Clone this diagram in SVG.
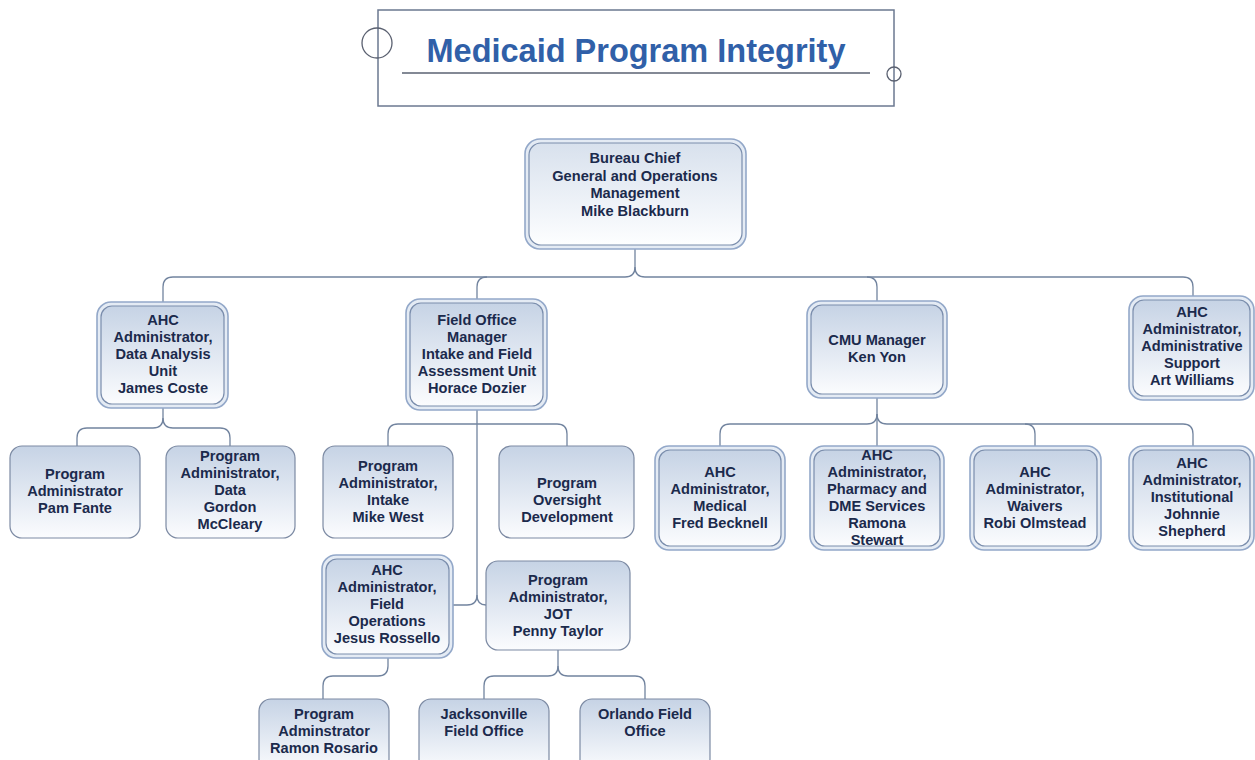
<svg xmlns="http://www.w3.org/2000/svg" width="1255" height="760" viewBox="0 0 1255 760">
  <defs>
    <linearGradient id="boxFill" x1="0" y1="0" x2="0" y2="1">
      <stop offset="0" stop-color="#c6d3e5"/>
      <stop offset="1" stop-color="#fbfcfe"/>
    </linearGradient>
    <linearGradient id="chiefFill" x1="0" y1="0" x2="0" y2="1">
      <stop offset="0" stop-color="#d8e1ed"/>
      <stop offset="1" stop-color="#fdfeff"/>
    </linearGradient>
  </defs>
  <style>
    .frame { fill: #ffffff; stroke: #6b7890; stroke-width: 1.5; }
    .ring { fill: none; stroke: #5a6070; stroke-width: 1.3; }
    .rule { stroke: #5a6272; stroke-width: 1.3; }
    .title { font-family: "Liberation Sans", Arial, sans-serif; font-weight: bold; font-size: 32.5px; fill: #3060a8; text-anchor: middle; }
    .outer { fill: #e4ebf4; stroke: #93a8c9; stroke-width: 1.6; }
    .inner { fill: url(#boxFill); stroke: #7a8dac; stroke-width: 1.2; }
    .single { fill: url(#boxFill); stroke: #7c8aa3; stroke-width: 1.2; }
    .label { font-family: "Liberation Sans", Arial, sans-serif; font-weight: bold; font-size: 14.6px; fill: #1b2a4c; text-anchor: middle; }
    .link { fill: none; stroke: #72849f; stroke-width: 1.3; }
  </style>

  <rect width="1255" height="760" fill="#ffffff"/>

  <!-- heading banner -->
  <g id="title">
    <rect class="frame" x="378" y="10" width="516" height="96"/>
    <circle class="ring" cx="377" cy="43" r="15"/>
    <circle class="ring" cx="894" cy="74" r="7"/>
    <line class="rule" x1="402" y1="73" x2="870" y2="73"/>
    <text class="title" x="636" y="62">Medicaid Program Integrity</text>
  </g>

  <!-- connectors -->
  <g id="connectors">
    <path class="link" d="M635,249 V267 Q635,277 625,277 H173 Q163,277 163,287 V302"/>
    <path class="link" d="M635,267 Q635,277 645,277 H1183 Q1193,277 1193,287 V296"/>
    <path class="link" d="M487,277 Q477,277 477,287 V299"/>
    <path class="link" d="M867,277 Q877,277 877,287 V301"/>

    <path class="link" d="M163,408 V418 Q163,428 153,428 H87 Q77,428 77,438 V446"/>
    <path class="link" d="M163,418 Q163,428 173,428 H220 Q230,428 230,438 V446"/>

    <path class="link" d="M388,446 V434 Q388,424 398,424 H557 Q567,424 567,434 V446"/>
    <path class="link" d="M477,410 V595 Q477,605 467,605 H453"/>
    <path class="link" d="M477,595 Q477,605 486,605"/>

    <path class="link" d="M388,657 V666 Q388,676 378,676 H333 Q323,676 323,686 V699"/>
    <path class="link" d="M558,650 V666 Q558,676 548,676 H494 Q484,676 484,686 V699"/>
    <path class="link" d="M558,666 Q558,676 568,676 H635 Q645,676 645,686 V699"/>

    <path class="link" d="M877,398 V414 Q877,424 867,424 H730 Q720,424 720,434 V446"/>
    <path class="link" d="M877,414 Q877,424 887,424 H1183 Q1193,424 1193,434 V446"/>
    <path class="link" d="M877,414 V446"/>
    <path class="link" d="M1025,424 Q1035,424 1035,434 V446"/>
  </g>

  <!-- level 1 -->
  <g id="bureau-chief">
    <rect class="outer" x="525" y="139" width="221" height="110" rx="15"/>
    <rect class="inner" x="529" y="143" width="213" height="102" rx="12" style="fill:url(#chiefFill)"/>
    <text class="label" x="635" y="163">Bureau Chief<tspan x="635" dy="17.5">General and Operations</tspan><tspan x="635" dy="17.5">Management</tspan><tspan x="635" dy="17.5">Mike Blackburn</tspan></text>
  </g>

  <!-- level 2 -->
  <g id="data-analysis">
    <rect class="outer" x="97" y="302" width="131" height="106" rx="14"/>
    <rect class="inner" x="101" y="306" width="123" height="98" rx="11"/>
    <text class="label" x="163" y="325">AHC<tspan x="163" dy="17">Administrator,</tspan><tspan x="163" dy="17">Data Analysis</tspan><tspan x="163" dy="17">Unit</tspan><tspan x="163" dy="17">James Coste</tspan></text>
  </g>
  <g id="field-office">
    <rect class="outer" x="406" y="299" width="141" height="111" rx="14"/>
    <rect class="inner" x="410" y="303" width="133" height="103" rx="11"/>
    <text class="label" x="477" y="325">Field Office<tspan x="477" dy="17">Manager</tspan><tspan x="477" dy="17">Intake and Field</tspan><tspan x="477" dy="17">Assessment Unit</tspan><tspan x="477" dy="17">Horace Dozier</tspan></text>
  </g>
  <g id="cmu-manager">
    <rect class="outer" x="807" y="301" width="140" height="97" rx="14"/>
    <rect class="inner" x="811" y="305" width="132" height="89" rx="11"/>
    <text class="label" x="877" y="345">CMU Manager<tspan x="877" dy="17">Ken Yon</tspan></text>
  </g>
  <g id="admin-support">
    <rect class="outer" x="1129" y="296" width="125" height="104" rx="14"/>
    <rect class="inner" x="1133" y="300" width="117" height="96" rx="11"/>
    <text class="label" x="1192" y="317">AHC<tspan x="1192" dy="17">Administrator,</tspan><tspan x="1192" dy="17">Administrative</tspan><tspan x="1192" dy="17">Support</tspan><tspan x="1192" dy="17">Art Williams</tspan></text>
  </g>

  <!-- level 3 -->
  <g id="pam-fante">
    <rect class="single" x="10" y="446" width="130" height="92" rx="12"/>
    <text class="label" x="75" y="479">Program<tspan x="75" dy="17">Administrator</tspan><tspan x="75" dy="17">Pam Fante</tspan></text>
  </g>
  <g id="gordon-mccleary">
    <rect class="single" x="166" y="446" width="129" height="92" rx="12"/>
    <text class="label" x="230" y="461">Program<tspan x="230" dy="17">Administrator,</tspan><tspan x="230" dy="17">Data</tspan><tspan x="230" dy="17">Gordon</tspan><tspan x="230" dy="17">McCleary</tspan></text>
  </g>
  <g id="mike-west">
    <rect class="single" x="323" y="446" width="130" height="92" rx="12"/>
    <text class="label" x="388" y="471">Program<tspan x="388" dy="17">Administrator,</tspan><tspan x="388" dy="17">Intake</tspan><tspan x="388" dy="17">Mike West</tspan></text>
  </g>
  <g id="oversight-development">
    <rect class="single" x="499" y="446" width="135" height="92" rx="12"/>
    <text class="label" x="567" y="488">Program<tspan x="567" dy="17">Oversight</tspan><tspan x="567" dy="17">Development</tspan></text>
  </g>
  <g id="fred-becknell">
    <rect class="outer" x="655" y="446" width="130" height="104" rx="14"/>
    <rect class="inner" x="659" y="450" width="122" height="96" rx="11"/>
    <text class="label" x="720" y="477">AHC<tspan x="720" dy="17">Administrator,</tspan><tspan x="720" dy="17">Medical</tspan><tspan x="720" dy="17">Fred Becknell</tspan></text>
  </g>
  <g id="ramona-stewart">
    <rect class="outer" x="810" y="446" width="134" height="104" rx="14"/>
    <rect class="inner" x="814" y="450" width="126" height="96" rx="11"/>
    <text class="label" x="877" y="460">AHC<tspan x="877" dy="17">Administrator,</tspan><tspan x="877" dy="17">Pharmacy and</tspan><tspan x="877" dy="17">DME Services</tspan><tspan x="877" dy="17">Ramona</tspan><tspan x="877" dy="17">Stewart</tspan></text>
  </g>
  <g id="robi-olmstead">
    <rect class="outer" x="970" y="446" width="131" height="104" rx="14"/>
    <rect class="inner" x="974" y="450" width="123" height="96" rx="11"/>
    <text class="label" x="1035" y="477">AHC<tspan x="1035" dy="17">Administrator,</tspan><tspan x="1035" dy="17">Waivers</tspan><tspan x="1035" dy="17">Robi Olmstead</tspan></text>
  </g>
  <g id="johnnie-shepherd">
    <rect class="outer" x="1129" y="446" width="125" height="104" rx="14"/>
    <rect class="inner" x="1133" y="450" width="117" height="96" rx="11"/>
    <text class="label" x="1192" y="468">AHC<tspan x="1192" dy="17">Administrator,</tspan><tspan x="1192" dy="17">Institutional</tspan><tspan x="1192" dy="17">Johnnie</tspan><tspan x="1192" dy="17">Shepherd</tspan></text>
  </g>
  <g id="jesus-rossello">
    <rect class="outer" x="322" y="555" width="131" height="103" rx="14"/>
    <rect class="inner" x="326" y="559" width="123" height="95" rx="11"/>
    <text class="label" x="387" y="575">AHC<tspan x="387" dy="17">Administrator,</tspan><tspan x="387" dy="17">Field</tspan><tspan x="387" dy="17">Operations</tspan><tspan x="387" dy="17">Jesus Rossello</tspan></text>
  </g>
  <g id="penny-taylor">
    <rect class="single" x="486" y="561" width="144" height="89" rx="12"/>
    <text class="label" x="558" y="585">Program<tspan x="558" dy="17">Administrator,</tspan><tspan x="558" dy="17">JOT</tspan><tspan x="558" dy="17">Penny Taylor</tspan></text>
  </g>

  <!-- level 4 -->
  <g id="ramon-rosario">
    <rect class="single" x="259" y="699" width="130" height="72" rx="12"/>
    <text class="label" x="324" y="719">Program<tspan x="324" dy="17">Adminstrator</tspan><tspan x="324" dy="17">Ramon Rosario</tspan></text>
  </g>
  <g id="jacksonville">
    <rect class="single" x="419" y="699" width="130" height="72" rx="12"/>
    <text class="label" x="484" y="719">Jacksonville<tspan x="484" dy="17">Field Office</tspan></text>
  </g>
  <g id="orlando">
    <rect class="single" x="580" y="699" width="130" height="72" rx="12"/>
    <text class="label" x="645" y="719">Orlando Field<tspan x="645" dy="17">Office</tspan></text>
  </g>
</svg>
